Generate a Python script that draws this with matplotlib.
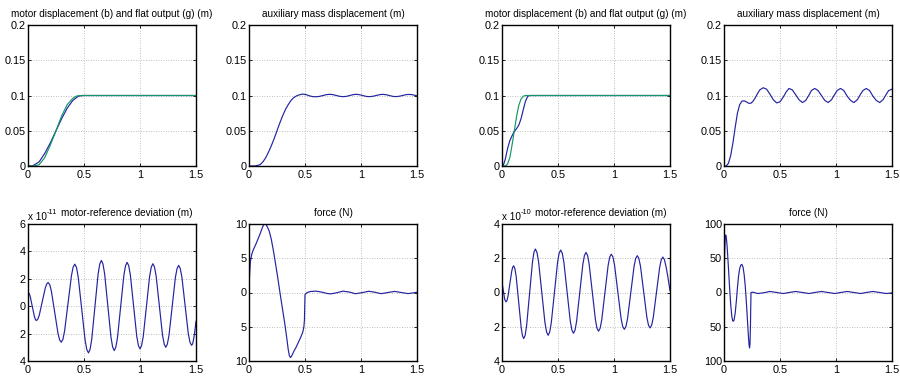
import matplotlib
matplotlib.use('Agg')
import matplotlib.pyplot as plt

plt.rcParams['font.family'] = ['Liberation Sans', 'DejaVu Sans']

BLUE = '#2323a0'
GREEN = '#12966a'

# ── Data ───────────────────────────────────────────────────────────────
# case 1: motor displacement (blue) and flat output (green), m
m1_t = [0, 0.035, 0.05, 0.1, 0.15, 0.2, 0.25, 0.3, 0.35, 0.4, 0.45, 0.49, 0.5, 1.5]
m1_b = [0, 0, 0.001, 0.006, 0.018, 0.033, 0.05, 0.067, 0.082, 0.093, 0.099, 0.1, 0.1, 0.1]
g1_t = [0, 0.06, 0.1, 0.15, 0.2, 0.25, 0.3, 0.35, 0.4, 0.43, 0.46, 0.5, 1.5]
g1_g = [0, 0, 0.002, 0.012, 0.03, 0.05, 0.071, 0.087, 0.096, 0.099, 0.1, 0.1, 0.1]

# case 1: auxiliary mass displacement, m
a1_t = [0, 0.05, 0.08, 0.1, 0.125, 0.15, 0.175, 0.2, 0.225, 0.25, 0.275, 0.3, 0.325,
        0.35, 0.375, 0.4, 0.425, 0.45, 0.48, 0.51, 0.54, 0.57, 0.6, 0.63, 0.66, 0.69,
        0.72, 0.75, 0.78, 0.81, 0.84, 0.87, 0.9, 0.93, 0.96, 0.99, 1.02, 1.05, 1.08,
        1.11, 1.14, 1.17, 1.2, 1.23, 1.26, 1.29, 1.32, 1.35, 1.38, 1.41, 1.44, 1.47, 1.5]
a1_x = [0, 0, 0.001, 0.002, 0.006, 0.012, 0.02, 0.029, 0.039, 0.05, 0.061, 0.071, 0.08,
        0.087, 0.093, 0.097, 0.0995, 0.101, 0.102, 0.1012, 0.0995, 0.0984, 0.0982, 0.0988,
        0.1, 0.1012, 0.1017, 0.1012, 0.1, 0.0988, 0.0983, 0.0988, 0.1, 0.1012, 0.1017,
        0.101, 0.0998, 0.0986, 0.0984, 0.099, 0.1002, 0.1013, 0.1016, 0.1009, 0.0997,
        0.0986, 0.0985, 0.0992, 0.1004, 0.1014, 0.1015, 0.1007, 0.0995]

# case 1: motor-reference deviation, x 1e-11 m
d1_t = [0, 0.002, 0.011, 0.02, 0.0385, 0.057, 0.066, 0.075,
        0.088, 0.101, 0.1275, 0.154, 0.167, 0.18,
        0.1946, 0.209, 0.2385, 0.268, 0.2824, 0.297,
        0.312, 0.327, 0.3575, 0.388, 0.403, 0.418,
        0.433, 0.4485, 0.479, 0.5095, 0.525, 0.54,
        0.554, 0.569, 0.5975, 0.626, 0.641, 0.655,
        0.669, 0.684, 0.7125, 0.741, 0.756, 0.77,
        0.784, 0.799, 0.8275, 0.856, 0.871, 0.885,
        0.899, 0.914, 0.9425, 0.971, 0.986, 1.0,
        1.014, 1.029, 1.0575, 1.086, 1.101, 1.115,
        1.129, 1.144, 1.1725, 1.201, 1.216, 1.23,
        1.244, 1.259, 1.2875, 1.316, 1.331, 1.345,
        1.359, 1.374, 1.4025, 1.431, 1.446, 1.46,
        1.47, 1.48, 1.49, 1.5]
d1_e = [6, 1.0, 0.922, 0.70, -0.025, -0.75, -0.97, -1.05,
        -0.944, -0.64, 0.34, 1.32, 1.624, 1.73,
        1.564, 1.09, -0.45, -1.99, -2.464, -2.63,
        -2.413, -1.795, 0.22, 2.235, 2.853, 3.07,
        2.824, 2.121, -0.17, -2.461, -3.164, -3.41,
        -3.154, -2.421, -0.035, 2.351, 3.084, 3.34,
        3.09, 2.376, 0.05, -2.276, -2.99, -3.24,
        -2.995, -2.297, -0.02, 2.257, 2.955, 3.2,
        2.96, 2.274, 0.04, -2.194, -2.88, -3.12,
        -2.884, -2.209, -0.01, 2.189, 2.864, 3.1,
        2.868, 2.206, 0.05, -2.106, -2.768, -3.0,
        -2.773, -2.124, -0.01, 2.104, 2.753, 2.98,
        2.758, 2.126, 0.065, -1.996, -2.628, -2.85,
        -2.75, -2.35, -1.8, -1.1]

# case 1: force, N
f1_t = [0, 0.005, 0.012, 0.025, 0.04, 0.06, 0.08, 0.1, 0.12, 0.13, 0.14, 0.15, 0.16, 0.18,
        0.2, 0.22, 0.24, 0.26, 0.28, 0.3, 0.32, 0.34, 0.35, 0.36, 0.37, 0.38, 0.4, 0.42,
        0.44, 0.46, 0.48, 0.49, 0.495, 0.5, 0.52, 0.55, 0.6, 0.65, 0.7, 0.73, 0.78, 0.84,
        0.9, 0.95, 1.0, 1.07, 1.12, 1.18, 1.24, 1.3, 1.36, 1.42, 1.47, 1.5]
f1_u = [0, 2.5, 4.5, 5.6, 6.3, 7.0, 7.8, 8.6, 9.5, 9.85, 10, 9.95, 9.7, 9.0,
        7.7, 5.9, 3.9, 1.8, -0.4, -2.5, -4.6, -7.0, -8.3, -9.2, -9.5, -9.3, -8.6, -8.0,
        -7.3, -6.6, -5.8, -5.0, -4.0, -0.3, 0.0, 0.15, 0.2, 0.05, -0.15, -0.2, -0.05, 0.2,
        0.05, -0.18, -0.05, 0.18, 0.05, -0.17, 0.0, 0.16, 0.0, -0.16, -0.05, 0.05]

# case 2: motor displacement (blue) and flat output (green), m
m2_t = [0, 0.01, 0.03, 0.05, 0.07, 0.09, 0.11, 0.13, 0.15, 0.17, 0.19, 0.21, 0.23, 0.25, 1.5]
m2_b = [0, 0, 0.01, 0.025, 0.036, 0.043, 0.049, 0.053, 0.058, 0.067, 0.08, 0.092, 0.099, 0.1, 0.1]
g2_t = [0, 0.03, 0.05, 0.07, 0.09, 0.11, 0.13, 0.15, 0.17, 0.19, 0.21, 0.22, 1.5]
g2_g = [0, 0, 0.003, 0.012, 0.03, 0.05, 0.07, 0.086, 0.095, 0.099, 0.1, 0.1, 0.1]

# case 2: auxiliary mass displacement, m
a2_t = [0, 0.02, 0.04, 0.06, 0.08, 0.1, 0.12, 0.14, 0.16, 0.18, 0.2, 0.22, 0.24, 0.26,
        0.28, 0.3, 0.32, 0.35, 0.38, 0.41, 0.44, 0.47, 0.5, 0.53, 0.555, 0.58, 0.61, 0.64,
        0.67, 0.7, 0.73, 0.76, 0.78, 0.81, 0.84, 0.87, 0.9, 0.93, 0.96, 0.99, 1.01, 1.04,
        1.07, 1.1, 1.13, 1.16, 1.19, 1.22, 1.24, 1.27, 1.3, 1.33, 1.36, 1.39, 1.42, 1.45,
        1.47, 1.5]
a2_x = [0, 0, 0.004, 0.015, 0.033, 0.055, 0.075, 0.087, 0.092, 0.0925, 0.091, 0.089, 0.089,
        0.092, 0.097, 0.103, 0.108, 0.111, 0.109, 0.102, 0.094, 0.0895, 0.091, 0.098,
        0.105, 0.11, 0.108, 0.101, 0.094, 0.09, 0.093, 0.101, 0.107, 0.11, 0.107, 0.1,
        0.093, 0.09, 0.094, 0.102, 0.107, 0.11, 0.107, 0.099, 0.093, 0.09, 0.094, 0.102,
        0.107, 0.11, 0.107, 0.099, 0.093, 0.09, 0.094, 0.102, 0.107, 0.109]

# case 2: motor-reference deviation, x 1e-10 m
d2_t = [0, 0.012, 0.024, 0.036,
        0.0445, 0.053, 0.07, 0.087, 0.0955, 0.104,
        0.115, 0.1265, 0.149, 0.1715, 0.183, 0.194,
        0.207, 0.22, 0.246, 0.272, 0.285, 0.298,
        0.312, 0.3265, 0.355, 0.3835, 0.398, 0.412,
        0.426, 0.44, 0.468, 0.496, 0.51, 0.524,
        0.538, 0.5525, 0.581, 0.6095, 0.624, 0.638,
        0.652, 0.666, 0.694, 0.722, 0.736, 0.75,
        0.764, 0.778, 0.806, 0.834, 0.848, 0.862,
        0.876, 0.8905, 0.919, 0.9475, 0.962, 0.976,
        0.9905, 1.005, 1.034, 1.063, 1.0775, 1.092,
        1.1065, 1.121, 1.15, 1.179, 1.1935, 1.208,
        1.222, 1.2365, 1.265, 1.2935, 1.308, 1.322,
        1.336, 1.3505, 1.379, 1.4075, 1.422, 1.436,
        1.45, 1.465, 1.48, 1.5]
d2_e = [0.6, 0.1, -0.4, -0.55,
        -0.47, -0.241, 0.505, 1.251, 1.48, 1.56,
        1.398, 0.937, -0.565, -2.067, -2.528, -2.69,
        -2.491, -1.924, -0.075, 1.774, 2.341, 2.54,
        2.348, 1.802, 0.02, -1.762, -2.308, -2.5,
        -2.311, -1.77, -0.01, 1.75, 2.291, 2.48,
        2.295, 1.768, 0.05, -1.668, -2.195, -2.38,
        -2.201, -1.689, -0.02, 1.649, 2.161, 2.34,
        2.165, 1.666, 0.04, -1.586, -2.085, -2.26,
        -2.089, -1.601, -0.01, 1.581, 2.069, 2.24,
        2.073, 1.597, 0.045, -1.507, -1.983, -2.15,
        -1.987, -1.52, 0.0, 1.52, 1.987, 2.15,
        1.99, 1.532, 0.04, -1.452, -1.91, -2.07,
        -1.913, -1.463, 0.0, 1.463, 1.913, 2.07,
        1.92, 1.5, 0.95, 0.1]

# case 2: force, N
f2_t = [0, 0.003, 0.007, 0.011, 0.015, 0.02, 0.025, 0.03, 0.04, 0.05, 0.06, 0.07, 0.077,
        0.083, 0.09, 0.1, 0.11, 0.12, 0.13, 0.14, 0.15, 0.16, 0.17, 0.18, 0.19, 0.2, 0.21,
        0.218, 0.224, 0.228, 0.232, 0.236, 0.239, 0.241, 0.26, 0.3, 0.35, 0.41, 0.47,
        0.53, 0.58, 0.64, 0.7, 0.76, 0.81, 0.87, 0.93, 0.99, 1.04, 1.1, 1.16, 1.22, 1.27,
        1.33, 1.39, 1.45, 1.5]
f2_u = [0, 35, 65, 79, 84, 81, 73, 62, 35, 7, -18, -35, -41,
        -42, -40, -30, -13, 7, 24, 35, 40, 41, 37, 26, 9, -15, -42,
        -64, -77, -81, -76, -50, -20, 0, 0.5, -1.5, -0.5, 1.5, 0,
        -1.5, 0, 1.5, 0, -1.5, 0, 1.5, 0, -1.5, 0, 1.5, 0, -1.5, 0,
        1.5, 0, -1.5, -0.5]

x_ticks = [0, 0.5, 1, 1.5]
x_labels = ['0', '0.5', '1', '1.5']
disp_ticks = [0, 0.05, 0.1, 0.15, 0.2]
disp_labels = ['0', '0.05', '0.1', '0.15', '0.2']
dev1_ticks = [-4, -2, 0, 2, 4, 6]
dev1_labels = ['4', '2', '0', '2', '4', '6']
f1_ticks = [-10, -5, 0, 5, 10]
f1_labels = ['10', '5', '0', '5', '10']
dev2_ticks = [-4, -2, 0, 2, 4]
dev2_labels = ['4', '2', '0', '2', '4']
f2_ticks = [-100, -50, 0, 50, 100]
f2_labels = ['100', '50', '0', '50', '100']

# ── Figure ─────────────────────────────────────────────────────────────
fig = plt.figure(figsize=(9, 3.76), dpi=100)
W, H = 900.0, 376.0
cols = [28, 249, 502, 724]
w = 168
rows = [(25, 166), (224, 361)]
LW = 0.85


def make_ax(col, row):
    top, bot = rows[row]
    return fig.add_axes([cols[col] / W, (H - bot) / H, w / W, (bot - top) / H])


def style(ax, title, yt, yl, tx=0.5):
    ax.set_xlim(0, 1.5)
    ax.set_ylim(yt[0], yt[-1])
    ax.set_xticks(x_ticks)
    ax.set_xticklabels(x_labels)
    ax.set_yticks(yt)
    ax.set_yticklabels(yl)
    ax.tick_params(direction='in', length=2.5, width=0.6, labelsize=7.8,
                   top=True, right=True, colors='black')
    ax.tick_params(axis='y', pad=1.5)
    ax.tick_params(axis='x', pad=3)
    ax.grid(True, linestyle=(0, (1, 2)), color='#a8a8a8', linewidth=0.6)
    for s in ax.spines.values():
        s.set_linewidth(1.0)
    ax.set_title(title, fontsize=7.2, pad=6, x=tx)


def offset(ax, expo):
    # MATLAB style exponent label above the y axis
    ax.text(0, 1.012, 'x 10', transform=ax.transAxes, fontsize=7.2, ha='left', va='bottom')
    ax.text(0.113, 1.055, expo, transform=ax.transAxes, fontsize=5.3, ha='left', va='bottom')


ax = make_ax(0, 0)
ax.plot(m1_t, m1_b, color=BLUE, lw=LW)
ax.plot(g1_t, g1_g, color=GREEN, lw=LW)
style(ax, 'motor displacement (b) and flat output (g) (m)', disp_ticks, disp_labels)

ax = make_ax(1, 0)
ax.plot(a1_t, a1_x, color=BLUE, lw=LW)
style(ax, 'auxiliary mass displacement (m)', disp_ticks, disp_labels)

ax = make_ax(0, 1)
ax.plot(d1_t, d1_e, color=BLUE, lw=LW)
style(ax, 'motor-reference deviation (m)', dev1_ticks, dev1_labels, tx=0.585)
offset(ax, '-11')

ax = make_ax(1, 1)
ax.plot(f1_t, f1_u, color=BLUE, lw=LW)
style(ax, 'force (N)', f1_ticks, f1_labels)

ax = make_ax(2, 0)
ax.plot(m2_t, m2_b, color=BLUE, lw=LW)
ax.plot(g2_t, g2_g, color=GREEN, lw=LW)
style(ax, 'motor displacement (b) and flat output (g) (m)', disp_ticks, disp_labels)

ax = make_ax(3, 0)
ax.plot(a2_t, a2_x, color=BLUE, lw=LW)
style(ax, 'auxiliary mass displacement (m)', disp_ticks, disp_labels)

ax = make_ax(2, 1)
ax.plot(d2_t, d2_e, color=BLUE, lw=LW)
style(ax, 'motor-reference deviation (m)', dev2_ticks, dev2_labels, tx=0.585)
offset(ax, '-10')

ax = make_ax(3, 1)
ax.plot(f2_t, f2_u, color=BLUE, lw=LW)
style(ax, 'force (N)', f2_ticks, f2_labels)

fig.savefig('out.png', dpi=100)
